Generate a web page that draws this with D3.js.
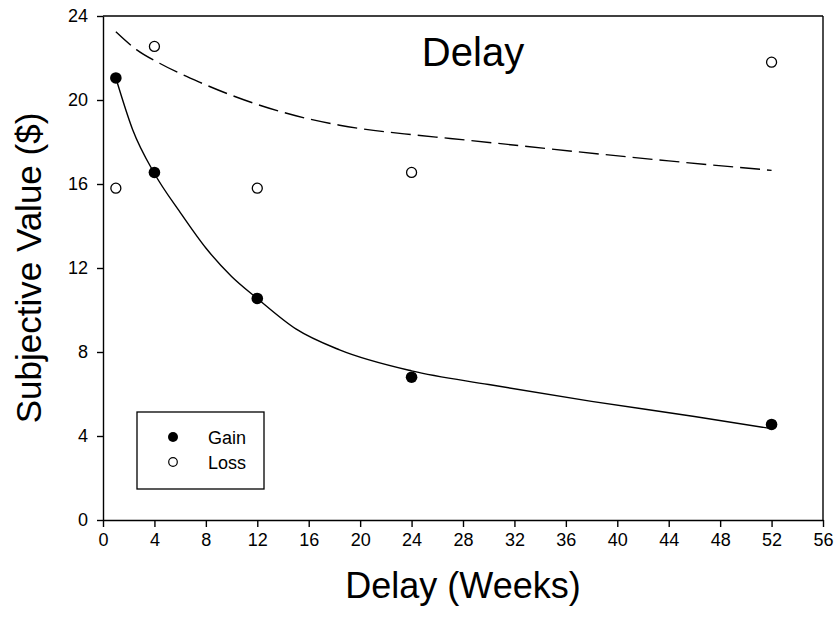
<!DOCTYPE html>
<html>
<head>
<meta charset="utf-8">
<script src="https://cdn.jsdelivr.net/npm/d3@7"></script>
<style>
  body { margin: 0; background: #fff; }
  svg { font-family: "Liberation Sans", Arial, sans-serif; }
</style>
</head>
<body>
<figure id="chart" style="margin:0"></figure>
<script>
// observed points
const delays = [1, 4, 12, 24, 52];
const gainValues = [21.05, 16.55, 10.55, 6.8, 4.55];
const lossValues = [15.8, 22.55, 15.8, 16.55, 21.8];

// fitted curves
const gainFitX = [1, 2.3, 4, 6, 8, 10, 12, 15, 18.4, 24, 30, 38, 46, 52];
const gainFitY = [21.05, 18.6, 16.5, 14.65, 12.95, 11.6, 10.55, 9.1, 8.1, 7.1, 6.45, 5.65, 4.93, 4.35];
const lossFitX = [1, 2.6, 4.4, 7.5, 11, 15, 18.4, 24, 27, 36.5, 44, 52];
const lossFitY = [23.25, 22.4, 21.75, 20.85, 20.0, 19.25, 18.8, 18.35, 18.17, 17.56, 17.1, 16.65];

const xTicks = d3.range(0, 57, 4);
const yTicks = [0, 4, 8, 12, 16, 20, 24];

const W = 838, H = 621;
const margin = { top: 16, right: 15, bottom: 101, left: 103 };
const width = W - margin.left - margin.right;
const height = H - margin.top - margin.bottom;

const svg = d3.select("#chart").append("svg")
  .attr("width", W)
  .attr("height", H);

const g = svg.append("g")
  .attr("transform", "translate(" + margin.left + "," + margin.top + ")");

const x = d3.scaleLinear().domain([0, 56]).range([0, width]);
const y = d3.scaleLinear().domain([0, 24]).range([height, 0]);

// axes
const xAxis = g.append("g")
  .attr("transform", "translate(0," + height + ")")
  .call(d3.axisBottom(x).tickValues(xTicks).tickSize(7).tickPadding(6).tickSizeOuter(0));
const yAxis = g.append("g")
  .call(d3.axisLeft(y).tickValues(yTicks).tickSize(6).tickPadding(9).tickSizeOuter(0));

[xAxis, yAxis].forEach(a => {
  a.selectAll("path, line").attr("stroke", "#000").attr("stroke-width", 1.4);
  a.selectAll("text").attr("font-size", 18).attr("fill", "#000")
    .attr("font-family", "Liberation Sans, Arial, sans-serif");
});

// top and right frame
g.append("line").attr("x1", 0).attr("x2", width).attr("y1", 0).attr("y2", 0)
  .attr("stroke", "#000").attr("stroke-width", 1.4);
g.append("line").attr("x1", width).attr("x2", width).attr("y1", 0).attr("y2", height)
  .attr("stroke", "#000").attr("stroke-width", 1.4);

// fitted lines
const line = d3.line()
  .x(d => x(d[0]))
  .y(d => y(d[1]))
  .curve(d3.curveMonotoneX);

g.append("path")
  .datum(lossFitX.map((v, i) => [v, lossFitY[i]]))
  .attr("d", line)
  .attr("fill", "none")
  .attr("stroke", "#000")
  .attr("stroke-width", 1.4)
  .attr("stroke-dasharray", "20,7");

g.append("path")
  .datum(gainFitX.map((v, i) => [v, gainFitY[i]]))
  .attr("d", line)
  .attr("fill", "none")
  .attr("stroke", "#000")
  .attr("stroke-width", 1.4);

// points
g.selectAll(".loss")
  .data(delays.map((d, i) => [d, lossValues[i]]))
  .enter().append("circle")
  .attr("cx", d => x(d[0]))
  .attr("cy", d => y(d[1]))
  .attr("r", 5)
  .attr("fill", "#fff")
  .attr("stroke", "#000")
  .attr("stroke-width", 1.3);

g.selectAll(".gain")
  .data(delays.map((d, i) => [d, gainValues[i]]))
  .enter().append("circle")
  .attr("cx", d => x(d[0]))
  .attr("cy", d => y(d[1]))
  .attr("r", 5.8)
  .attr("fill", "#000");

// legend
const legend = g.append("g").attr("transform", "translate(34,396)");
legend.append("rect")
  .attr("width", 127).attr("height", 77)
  .attr("fill", "#fff").attr("stroke", "#000").attr("stroke-width", 1.3);
legend.append("circle").attr("cx", 36).attr("cy", 25).attr("r", 5).attr("fill", "#000");
legend.append("circle").attr("cx", 36).attr("cy", 50).attr("r", 4.3)
  .attr("fill", "#fff").attr("stroke", "#000").attr("stroke-width", 1.2);
legend.append("text").attr("x", 71).attr("y", 32).attr("font-size", 18).text("Gain");
legend.append("text").attr("x", 71).attr("y", 57).attr("font-size", 18).text("Loss");

// titles
svg.append("text")
  .attr("x", 473).attr("y", 66)
  .attr("text-anchor", "middle")
  .attr("font-size", 40)
  .text("Delay");

svg.append("text")
  .attr("x", margin.left + width / 2).attr("y", 598)
  .attr("text-anchor", "middle")
  .attr("font-size", 36)
  .text("Delay (Weeks)");

svg.append("text")
  .attr("transform", "translate(41," + (margin.top + height / 2) + ") rotate(-90)")
  .attr("text-anchor", "middle")
  .attr("font-size", 35)
  .text("Subjective Value ($)");
</script>
</body>
</html>
